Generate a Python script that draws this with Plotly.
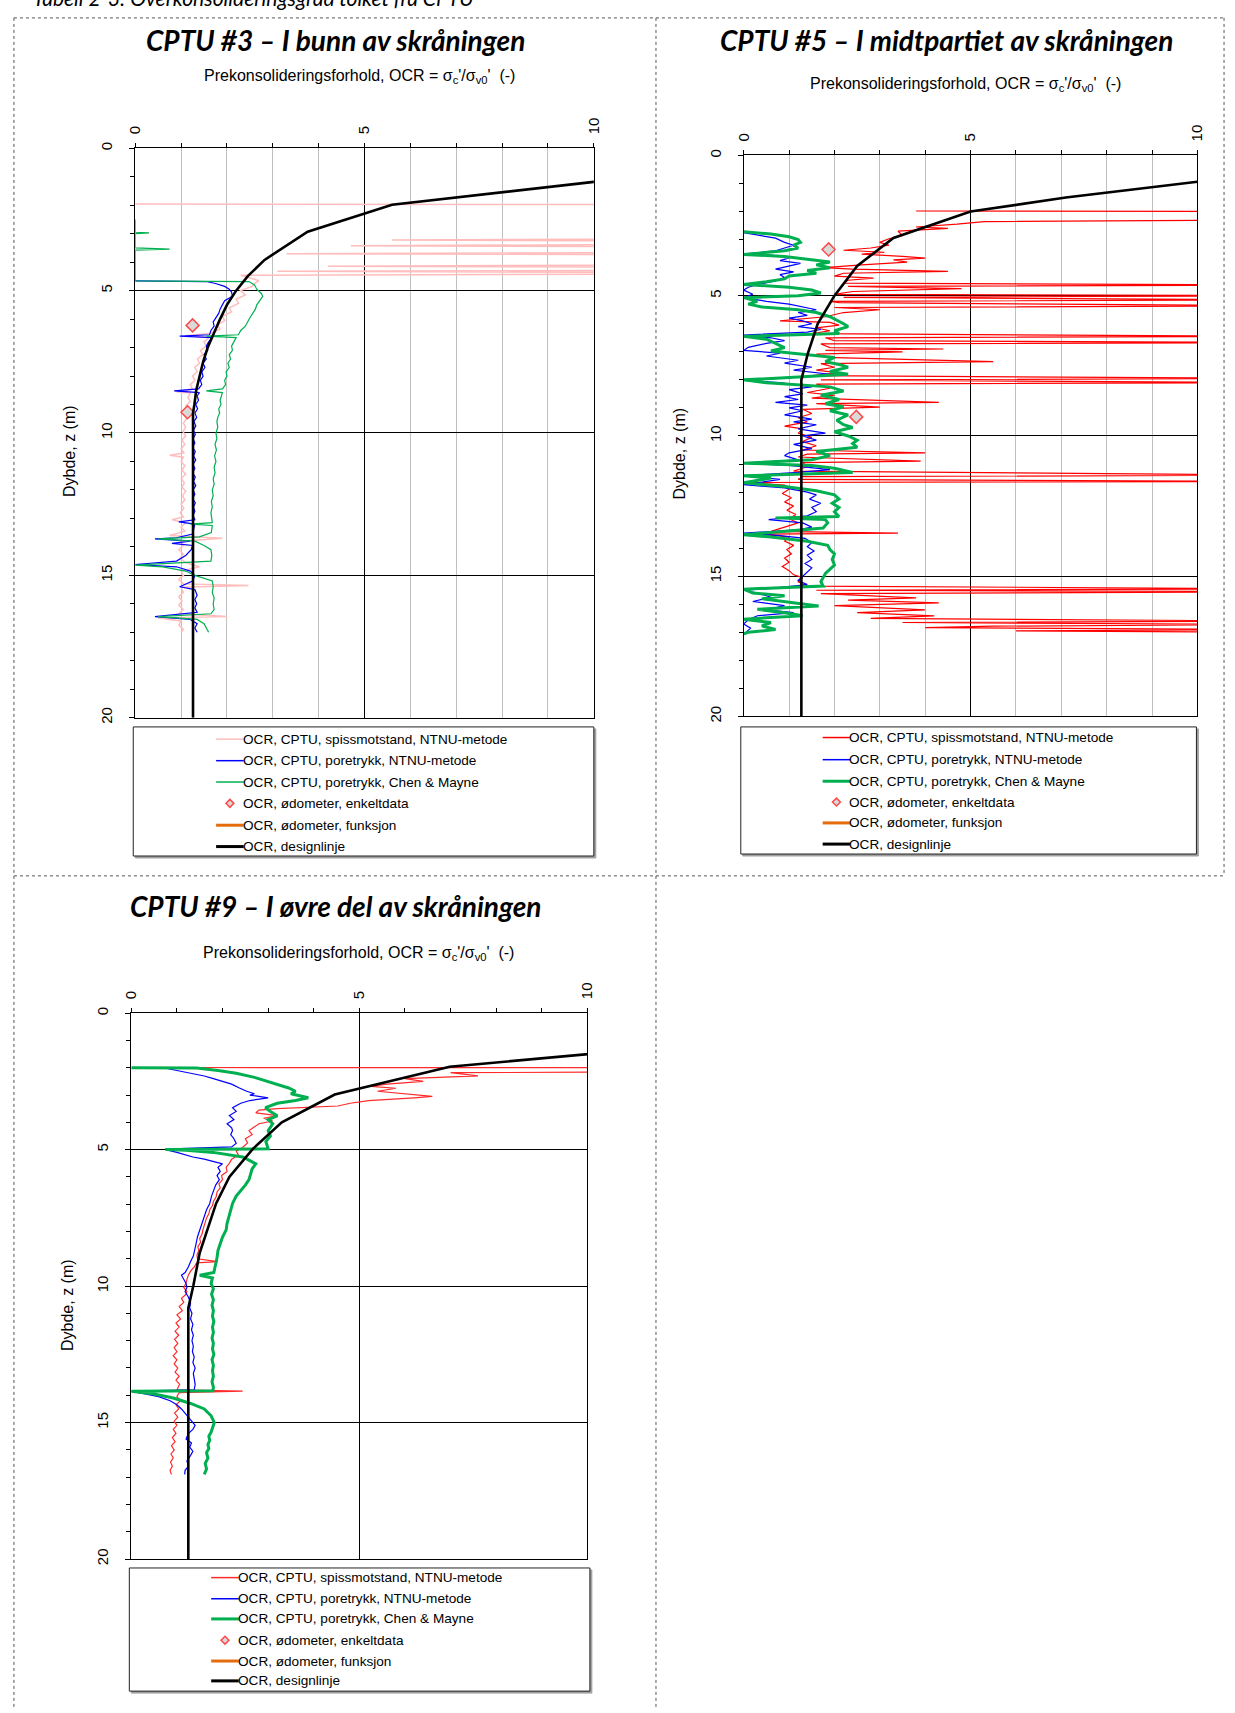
import plotly.graph_objects as go

# ======================= DATA (depth z [m], OCR [-]) =======================
# ---- CPTU #3 ----
c3_spiss = [(1.96,0.0),(1.98,12.0),(3.18,12.0),(3.22,5.6),(3.26,12.0),(3.38,12.0),(3.42,4.7),(3.46,12.0),
            (3.66,12.0),(3.70,3.3),(3.74,12.0),(4.10,12.0),(4.14,4.2),(4.18,12.0),(4.28,12.0),(4.32,3.1),
            (4.36,12.0),(4.42,12.0),(4.46,2.3),(4.55,2.5),(4.65,2.7),(4.75,2.6),(4.85,2.55),(5.0,2.3),
            (5.15,2.4),(5.3,2.2),(5.45,2.25),(5.6,2.05),(5.75,2.1),(5.9,1.9),(6.05,1.95),(6.2,1.8),
            (6.35,1.85),(6.5,1.65),(6.58,1.1),(6.65,1.6),(6.8,1.5),(6.95,1.55),(7.1,1.42),(7.25,1.47),
            (7.4,1.36),(7.55,1.4),(7.7,1.3),(7.85,1.35),(8.0,1.25),(8.15,1.3),(8.3,1.2),(8.45,1.25),
            (8.55,0.9),(8.6,1.2),(8.75,1.15),(8.9,1.2),(9.05,1.1),(9.2,1.15),(9.35,1.08),(9.5,1.12),
            (9.65,1.05),(9.8,1.1),(9.95,1.04),(10.1,1.1),(10.25,1.02),(10.4,1.08),(10.55,1.0),(10.7,1.06),
            (10.78,0.75),(10.85,1.05),(11.0,1.0),(11.15,1.08),(11.3,1.02),(11.45,1.1),(11.6,1.0),(11.75,1.07),
            (11.9,1.02),(12.05,1.1),(12.2,1.03),(12.35,1.08),(12.5,1.0),(12.65,1.06),(12.8,0.98),(12.95,1.05),
            (13.05,0.8),(13.15,1.1),(13.3,1.0),(13.45,1.08),(13.6,0.75),(13.7,1.9),(13.8,1.0),(13.95,1.05),
            (14.1,0.95),(14.25,1.05),(14.4,0.98),(14.55,1.1),(14.7,1.4),(14.85,1.0),(15.0,1.05),(15.15,0.95),
            (15.3,1.05),(15.36,2.47),(15.42,1.0),(15.6,1.05),(15.75,0.95),(15.9,1.02),(16.05,0.95),(16.2,1.05),
            (16.35,0.95),(16.45,2.0),(16.5,0.5),(16.6,1.0),(16.75,0.95),(16.9,1.05),(17.0,1.0)]
c3_poretrykk = [(4.66,0.0),(4.68,1.55),(4.75,1.75),(4.85,1.95),(4.95,2.05),(5.05,2.1),(5.2,2.12),(5.35,1.95),
            (5.5,1.9),(5.65,1.85),(5.8,1.82),(5.95,1.75),(6.1,1.7),(6.25,1.72),(6.4,1.65),(6.55,1.62),
            (6.6,0.97),(6.65,1.68),(6.8,1.6),(6.95,1.55),(7.1,1.58),(7.25,1.5),(7.4,1.55),(7.55,1.48),
            (7.7,1.52),(7.85,1.45),(8.0,1.48),(8.15,1.42),(8.3,1.45),(8.45,1.38),(8.52,0.85),(8.58,1.4),
            (8.7,1.35),(8.85,1.38),(9.0,1.32),(9.15,1.36),(9.3,1.3),(9.45,1.34),(9.6,1.28),(9.75,1.32),
            (9.9,1.27),(10.05,1.31),(10.2,1.26),(10.35,1.3),(10.5,1.25),(10.65,1.31),(10.8,1.27),(10.95,1.32),
            (11.1,1.26),(11.25,1.3),(11.4,1.25),(11.55,1.31),(11.7,1.27),(11.85,1.32),(12.0,1.26),(12.15,1.3),
            (12.3,1.25),(12.45,1.31),(12.6,1.27),(12.75,1.3),(12.9,1.26),(13.05,1.3),(13.12,0.95),(13.2,1.3),
            (13.4,1.27),(13.55,1.25),(13.68,0.9),(13.72,0.43),(13.8,1.2),(13.88,0.8),(13.95,1.25),(14.1,1.22),
            (14.3,1.1),(14.5,0.9),(14.62,0.0),(14.7,0.9),(14.85,1.2),(15.0,1.3),(15.2,1.25),(15.4,0.97),
            (15.5,1.3),(15.7,1.35),(15.85,1.3),(16.0,1.34),(16.15,1.3),(16.3,1.35),(16.45,0.43),(16.55,1.2),
            (16.7,1.35),(16.85,1.3),(17.0,1.35)]
c3_chen = [(2.5,0.0),(2.95,0.0),(2.97,0.3),(3.0,0.0),(3.5,0.0),(3.54,0.75),(3.58,0.0),(4.66,0.0),
            (4.68,2.48),(4.8,2.6),(4.95,2.65),(5.1,2.75),(5.2,2.78),(5.35,2.72),(5.5,2.65),(5.65,2.62),
            (5.8,2.55),(5.95,2.5),(6.1,2.45),(6.25,2.4),(6.4,2.3),(6.55,2.25),(6.6,1.55),(6.65,2.2),
            (6.8,2.15),(6.95,2.1),(7.1,2.12),(7.25,2.05),(7.4,2.08),(7.55,2.02),(7.7,2.05),(7.85,1.98),
            (8.0,2.0),(8.15,1.95),(8.3,1.97),(8.45,1.9),(8.52,1.55),(8.58,1.9),(8.7,1.88),(8.85,1.85),
            (9.0,1.87),(9.15,1.82),(9.3,1.84),(9.45,1.8),(9.6,1.78),(9.8,1.8),(10.0,1.76),(10.2,1.78),
            (10.4,1.74),(10.6,1.77),(10.8,1.73),(11.0,1.76),(11.2,1.72),(11.4,1.74),(11.6,1.7),(11.8,1.72),
            (12.0,1.68),(12.2,1.7),(12.4,1.66),(12.6,1.68),(12.8,1.65),(13.0,1.67),(13.15,1.68),(13.2,1.2),
            (13.25,1.68),(13.5,1.66),(13.65,1.4),(13.72,0.5),(13.8,1.3),(13.95,1.5),(14.1,1.65),(14.3,1.67),
            (14.5,1.65),(14.6,0.5),(14.64,0.0),(14.7,0.6),(14.85,1.1),(15.0,1.3),(15.1,1.5),(15.2,1.68),
            (15.4,1.7),(15.6,1.68),(15.8,1.72),(16.0,1.7),(16.2,1.72),(16.35,1.65),(16.45,0.5),(16.55,1.35),
            (16.7,1.5),(16.85,1.55),(17.0,1.6)]
c3_oedo_z = [6.22, 9.27]
c3_oedo_ocr = [1.25, 1.14]
c3_design = [(1.0,11.5),(1.18,10.0),(1.98,5.6),(2.93,3.76),(3.92,2.82),(4.5,2.45),(5.0,2.2),(5.5,2.0),
            (6.0,1.85),(6.5,1.71),(7.0,1.58),(7.5,1.48),(8.0,1.4),(8.5,1.33),(9.0,1.29),(9.3,1.26),(20.0,1.26)]

# ---- CPTU #5 ----
c5_spiss = [(1.98,3.8),(2.0,12.0),(2.3,12.0),(2.36,5.3),(2.45,4.7),(2.55,3.8),(2.6,4.5),(2.7,3.4),
            (2.85,3.5),(2.97,3.2),(3.1,3.0),(3.2,3.2),(3.3,2.8),(3.38,2.2),(3.45,3.1),(3.52,2.6),
            (3.6,3.5),(3.66,4.0),(3.72,3.3),(3.8,3.6),(3.9,2.6),(4.0,1.78),(4.05,2.4),(4.13,4.5),
            (4.2,2.2),(4.3,2.0),(4.37,2.86),(4.45,2.3),(4.55,2.2),(4.62,12.0),(4.67,2.3),(4.75,4.8),
            (4.85,2.4),(4.95,2.0),(5.0,12.0),(5.06,2.2),(5.15,12.0),(5.2,1.9),(5.25,2.1),(5.36,12.0),
            (5.42,2.0),(5.5,3.0),(5.6,2.2),(5.75,1.8),(5.9,0.8),(5.95,1.9),(6.05,2.1),(6.15,1.6),
            (6.25,1.9),(6.35,1.5),(6.45,12.0),(6.5,1.8),(6.6,2.0),(6.67,12.0),(6.72,1.7),(6.85,1.9),
            (6.9,4.4),(6.95,1.8),(7.0,3.5),(7.08,1.6),(7.2,1.8),(7.35,5.5),(7.42,1.7),(7.55,2.0),
            (7.65,1.6),(7.75,2.1),(7.85,1.5),(7.95,12.0),(8.0,1.7),(8.1,12.0),(8.15,1.6),(8.3,1.9),
            (8.45,1.4),(8.55,2.0),(8.65,1.5),(8.8,4.3),(8.85,1.6),(8.97,3.0),(9.05,1.3),(9.2,1.5),
            (9.35,1.2),(9.5,1.4),(9.65,0.9),(9.75,1.3),(9.9,1.2),(10.05,1.5),(10.2,1.3),(10.35,1.6),
            (10.5,1.3),(10.6,4.0),(10.65,1.4),(10.75,1.2),(10.9,3.9),(10.95,1.3),(11.1,1.4),(11.25,1.1),
            (11.4,12.0),(11.45,1.3),(11.55,1.2),(11.62,12.0),(11.66,0.05),(11.75,0.9),(11.9,1.0),(12.05,0.85),
            (12.2,1.05),(12.35,0.9),(12.5,1.1),(12.65,0.95),(12.8,1.15),(12.95,1.0),(13.1,1.2),(13.25,0.9),
            (13.4,0.6),(13.46,3.4),(13.5,0.33),(13.6,1.0),(13.75,0.9),(13.9,1.1),(14.05,0.95),(14.2,1.05),
            (14.35,0.9),(14.5,1.0),(14.65,0.85),(14.8,1.0),(14.95,1.1),(15.05,1.3),(15.2,1.2),(15.35,1.4),
            (15.45,12.0),(15.5,1.6),(15.55,12.0),(15.62,1.7),(15.77,3.8),(15.85,2.3),(15.95,4.3),(16.05,2.0),
            (16.2,4.0),(16.3,2.5),(16.41,4.2),(16.5,2.8),(16.6,12.0),(16.65,3.5),(16.72,12.0),(16.78,5.5),
            (16.83,4.0),(16.9,12.0),(16.95,6.0),(17.0,12.0)]
c5_poretrykk = [(2.75,0.0),(2.85,0.4),(2.95,0.7),(3.1,0.9),(3.2,1.1),(3.3,0.9),(3.4,0.7),(3.5,0.1),
            (3.55,0.6),(3.65,1.0),(3.75,0.8),(3.85,1.25),(3.95,1.0),(4.05,0.7),(4.15,1.1),(4.25,0.8),
            (4.35,0.9),(4.47,0.7),(4.6,0.3),(4.7,0.1),(4.8,0.0),(4.95,0.2),(5.07,0.0),(5.2,0.5),
            (5.3,1.0),(5.4,1.3),(5.5,1.6),(5.6,1.2),(5.7,1.4),(5.8,1.0),(5.9,1.3),(6.0,1.5),
            (6.1,1.2),(6.2,1.7),(6.3,1.4),(6.4,0.0),(6.5,0.6),(6.6,0.9),(6.7,0.5),(6.84,0.1),
            (6.95,0.0),(7.05,0.8),(7.15,0.5),(7.3,1.2),(7.4,0.9),(7.55,1.5),(7.65,1.1),(7.8,1.9),
            (7.9,1.2),(8.02,0.0),(8.1,0.8),(8.25,1.5),(8.35,1.0),(8.5,1.3),(8.6,0.9),(8.7,1.2),
            (8.8,0.7),(8.9,1.4),(9.0,1.0),(9.1,1.3),(9.25,0.9),(9.4,1.5),(9.5,1.1),(9.6,1.6),
            (9.75,1.2),(9.9,1.8),(10.0,1.3),(10.15,1.6),(10.3,1.1),(10.45,1.5),(10.6,1.0),(10.7,0.9),
            (10.85,1.2),(10.97,0.0),(11.05,1.0),(11.2,1.9),(11.3,1.2),(11.42,0.0),(11.55,0.8),(11.74,0.0),
            (11.85,0.9),(12.0,1.4),(12.1,1.6),(12.25,1.45),(12.4,1.7),(12.55,1.5),(12.7,1.6),(12.85,1.4),
            (12.98,0.55),(13.1,1.3),(13.25,1.5),(13.35,1.2),(13.46,0.0),(13.55,0.8),(13.65,1.35),(13.8,1.5),
            (13.95,1.4),(14.1,1.55),(14.25,1.4),(14.4,1.5),(14.55,1.35),(14.7,1.5),(14.85,1.4),(15.0,1.3),
            (15.15,1.2),(15.3,1.4),(15.45,0.5),(15.5,0.0),(15.6,0.3),(15.75,0.6),(15.9,0.2),(16.05,0.9),
            (16.2,0.5),(16.3,1.1),(16.41,0.3),(16.55,0.1),(16.7,0.0),(16.85,0.15),(17.0,0.05)]
c5_chen = [(2.72,0.0),(2.8,0.6),(2.9,1.0),(3.0,1.2),(3.1,1.25),(3.2,1.1),(3.3,1.2),(3.4,0.9),
            (3.5,0.2),(3.53,0.0),(3.6,0.9),(3.7,1.4),(3.8,1.9),(3.9,1.6),(4.0,1.9),(4.1,1.4),
            (4.2,1.6),(4.3,1.0),(4.4,0.9),(4.5,0.5),(4.6,0.0),(4.7,1.0),(4.8,1.5),(4.9,1.7),
            (5.0,1.2),(5.07,0.0),(5.2,0.3),(5.3,0.1),(5.4,0.4),(5.5,1.2),(5.6,1.6),(5.75,1.9),
            (5.9,2.1),(6.0,2.2),(6.1,2.3),(6.25,2.0),(6.35,2.1),(6.45,0.0),(6.55,0.5),(6.7,0.7),
            (6.85,0.9),(6.97,0.6),(7.1,1.4),(7.2,2.0),(7.35,1.8),(7.45,2.1),(7.55,2.3),(7.7,1.9),
            (7.8,2.3),(7.9,1.2),(8.0,0.0),(8.1,0.5),(8.25,1.9),(8.4,2.2),(8.55,1.7),(8.7,2.1),
            (8.85,1.8),(8.96,2.2),(9.1,1.9),(9.25,2.3),(9.44,2.05),(9.6,2.2),(9.7,2.4),(9.85,2.0),
            (10.0,2.3),(10.15,2.5),(10.27,2.4),(10.4,2.5),(10.55,1.6),(10.7,1.9),(10.85,1.5),(10.97,0.0),
            (11.05,1.5),(11.15,2.0),(11.3,2.4),(11.42,0.0),(11.5,0.6),(11.67,0.0),(11.8,0.9),(11.95,1.6),
            (12.1,2.0),(12.25,2.1),(12.4,1.95),(12.55,2.1),(12.7,2.0),(12.87,2.1),(12.92,0.7),(12.98,1.8),
            (13.1,1.85),(13.28,1.75),(13.4,0.8),(13.52,0.0),(13.6,0.6),(13.75,1.4),(13.9,1.85),(14.05,1.9),
            (14.2,2.0),(14.4,1.95),(14.6,2.0),(14.76,1.9),(14.9,1.8),(15.05,1.75),(15.2,1.7),(15.35,1.75),
            (15.46,0.0),(15.6,0.2),(15.7,0.9),(15.8,0.4),(15.94,1.1),(16.06,1.65),(16.18,0.3),(16.3,0.9),
            (16.41,1.3),(16.53,0.0),(16.65,0.6),(16.77,0.4),(16.9,0.7),(17.0,0.1),(17.05,0.0)]
c5_oedo_z = [3.35, 9.32]
c5_oedo_ocr = [1.87, 2.48]
c5_design = [(0.7,11.5),(0.94,10.0),(1.5,7.1),(2.0,5.0),(2.94,3.3),(3.94,2.5),(5.0,2.0),(6.0,1.63),
            (7.07,1.41),(8.0,1.27),(20.0,1.27)]

# ---- CPTU #9 ----
c9_spiss = [(1.99,1.43),(2.0,12.0),(2.15,12.0),(2.18,7.0),(2.3,7.6),(2.4,6.0),(2.5,6.4),(2.6,5.6),
            (2.68,5.25),(2.75,5.8),(2.86,5.4),(2.95,5.9),(3.05,6.6),(3.1,6.2),(3.2,5.2),(3.3,4.8),
            (3.4,4.53),(3.5,3.2),(3.55,2.8),(3.65,2.73),(3.75,3.2),(3.85,2.9),(3.95,3.1),(4.05,2.8),
            (4.15,2.7),(4.3,2.58),(4.45,2.65),(4.6,2.5),(4.75,2.55),(4.92,2.44),(5.05,2.3),(5.2,2.35),
            (5.35,2.2),(5.5,2.15),(5.64,2.08),(5.8,2.1),(5.95,1.98),(6.1,2.0),(6.25,1.92),(6.4,1.95),
            (6.55,1.88),(6.73,1.86),(6.9,1.8),(7.05,1.78),(7.2,1.72),(7.35,1.7),(7.5,1.65),(7.65,1.62),
            (7.8,1.6),(7.94,1.57),(8.1,1.55),(8.25,1.5),(8.4,1.52),(8.55,1.46),(8.7,1.48),(8.85,1.44),
            (9.0,1.45),(9.1,1.9),(9.15,1.43),(9.3,1.38),(9.45,1.3),(9.6,1.25),(9.75,1.22),(9.9,1.2),
            (10.05,1.15),(10.2,1.22),(10.3,1.2),(10.45,1.1),(10.6,1.15),(10.75,1.05),(10.9,1.12),(11.05,1.0),
            (11.2,1.08),(11.35,0.98),(11.5,1.05),(11.65,0.96),(11.8,1.04),(11.95,0.95),(12.1,1.02),(12.25,0.94),
            (12.4,1.0),(12.55,0.92),(12.7,1.0),(12.85,0.94),(13.0,1.02),(13.15,0.96),(13.3,1.05),(13.45,0.98),
            (13.6,1.06),(13.8,1.0),(13.85,2.44),(13.9,1.05),(14.05,1.0),(14.2,1.08),(14.35,0.98),(14.5,1.04),
            (14.65,0.95),(14.8,1.02),(14.95,0.94),(15.1,1.0),(15.25,0.92),(15.4,0.98),(15.55,0.9),(15.7,0.96),
            (15.85,0.88),(16.0,0.94),(16.15,0.87),(16.3,0.92),(16.45,0.86),(16.6,0.9),(16.75,0.85),(16.9,0.88)]
c9_poretrykk = [(2.0,0.7),(2.1,1.0),(2.2,1.3),(2.3,1.6),(2.4,1.8),(2.5,2.0),(2.6,2.2),(2.74,2.37),
            (2.8,2.45),(2.86,2.53),(2.95,2.7),(3.0,2.6),(3.1,3.0),(3.2,2.6),(3.3,2.4),(3.46,2.22),
            (3.6,2.3),(3.75,2.15),(3.9,2.25),(4.05,2.1),(4.2,2.2),(4.3,2.22),(4.45,2.18),(4.6,2.25),
            (4.77,2.3),(4.9,2.2),(4.98,0.74),(5.02,0.8),(5.1,1.0),(5.2,1.2),(5.27,1.35),(5.35,1.6),
            (5.45,1.85),(5.52,2.0),(5.65,1.9),(5.8,1.95),(5.95,1.88),(6.1,1.93),(6.3,1.85),(6.5,1.8),
            (6.7,1.76),(6.97,1.72),(7.2,1.65),(7.45,1.6),(7.7,1.55),(7.94,1.5),(8.2,1.45),(8.45,1.42),
            (8.7,1.38),(8.9,1.36),(9.1,1.3),(9.3,1.25),(9.5,1.18),(9.6,1.1),(9.75,1.15),(9.9,1.2),
            (10.05,1.22),(10.2,1.18),(10.4,1.25),(10.6,1.3),(10.8,1.28),(11.0,1.33),(11.2,1.3),(11.4,1.35),
            (11.6,1.32),(11.8,1.36),(12.0,1.33),(12.2,1.36),(12.4,1.34),(12.6,1.38),(12.8,1.35),(13.0,1.4),
            (13.2,1.36),(13.4,1.38),(13.6,1.4),(13.8,1.38),(13.85,0.0),(13.95,0.3),(14.05,0.6),(14.2,0.85),
            (14.35,1.0),(14.5,1.1),(14.7,1.2),(14.9,1.3),(15.1,1.4),(15.25,1.35),(15.4,1.25),(15.6,1.2),
            (15.75,1.32),(15.9,1.28),(16.05,1.35),(16.2,1.3),(16.4,1.22),(16.6,1.25),(16.75,1.18),(16.9,1.17)]
c9_chen = [(2.0,0.0),(2.01,1.43),(2.1,1.9),(2.2,2.3),(2.35,2.7),(2.5,3.0),(2.6,3.2),(2.74,3.45),
            (2.86,3.6),(2.95,3.5),(3.1,3.88),(3.2,3.6),(3.3,3.2),(3.46,2.94),(3.6,3.05),(3.76,3.2),
            (3.9,3.0),(4.05,3.1),(4.3,3.0),(4.5,3.05),(4.7,2.95),(4.9,3.0),(4.97,3.0),(4.99,0.75),
            (5.02,1.2),(5.1,1.8),(5.2,2.2),(5.27,2.44),(5.4,2.6),(5.52,2.73),(5.7,2.65),(5.9,2.62),
            (6.1,2.58),(6.3,2.5),(6.5,2.4),(6.7,2.3),(6.97,2.22),(7.2,2.18),(7.45,2.15),(7.7,2.1),
            (7.94,2.08),(8.2,2.0),(8.45,1.95),(8.7,1.9),(8.95,1.88),(9.15,1.86),(9.35,1.83),(9.5,1.81),
            (9.6,1.5),(9.7,1.78),(9.9,1.75),(10.1,1.8),(10.3,1.76),(10.5,1.8),(10.7,1.77),(10.9,1.8),
            (11.1,1.78),(11.3,1.81),(11.5,1.78),(11.7,1.8),(11.9,1.77),(12.1,1.8),(12.3,1.78),(12.5,1.81),
            (12.7,1.77),(12.9,1.8),(13.1,1.78),(13.3,1.8),(13.5,1.77),(13.7,1.8),(13.83,1.79),(13.85,0.0),
            (13.95,0.5),(14.1,0.92),(14.3,1.3),(14.5,1.6),(14.75,1.75),(15.0,1.82),(15.2,1.78),(15.35,1.75),
            (15.5,1.7),(15.65,1.72),(15.8,1.68),(15.95,1.7),(16.1,1.65),(16.3,1.68),(16.5,1.62),(16.7,1.65),
            (16.9,1.6)]
c9_oedo_z = []
c9_oedo_ocr = []
c9_design = [(1.2,12.0),(1.51,10.0),(1.96,6.98),(2.98,4.46),(4.0,3.3),(4.98,2.66),(6.0,2.15),(6.97,1.86),
            (8.0,1.65),(8.78,1.5),(9.99,1.36),(10.8,1.25),(20.0,1.25)]

x_ticks = [0, 5, 10]
y_ticks = [0, 5, 10, 15, 20]

legend_labels = ["OCR, CPTU, spissmotstand, NTNU-metode",
                 "OCR, CPTU, poretrykk, NTNU-metode",
                 "OCR, CPTU, poretrykk, Chen & Mayne",
                 "OCR, ødometer, enkeltdata",
                 "OCR, ødometer, funksjon",
                 "OCR, designlinje"]

titles = ["CPTU #3 – I bunn av skråningen",
          "CPTU #5 – I midtpartiet av skråningen",
          "CPTU #9 – I øvre del av skråningen"]

# ======================= LAYOUT HELPERS =======================
W, H = 1235, 1713
def PX(x): return x / W
def PY(y): return 1 - y / H

FONT = "Liberation Sans, Arial, sans-serif"
BLACK = "#000000"
PINK = "#ffbdbd"
RED = "#ff0000"
RED9 = "#ff2a2a"
BLUE = "#0000ff"
GREEN = "#00b050"
ORANGE = "#e46c0a"

panels = [
    dict(key="", xd=(128, 593), yd=(143.3, 716.7), minor_grid=True,
         series=[(c3_spiss, PINK, 1.5), (c3_poretrykk, BLUE, 1.2), (c3_chen, GREEN, 1.2)],
         oedo=(c3_oedo_z, c3_oedo_ocr), design=c3_design,
         title=(331, 34), sub=(355, 71.5), ytitle=(62, 448),
         leg=dict(box=(126, 593, 726, 856), line=(210, 238), text=235,
                  rows=[738.3, 760, 781.5, 803, 825, 846.5],
                  colors=[(PINK, 1.5), (BLUE, 1.5), (GREEN, 1.5), None, (ORANGE, 3), (BLACK, 3)])),
    dict(key="2", xd=(745, 1205), yd=(150.5, 715.5), minor_grid=True,
         series=[(c5_spiss, RED, 1.2), (c5_poretrykk, BLUE, 1.2), (c5_chen, GREEN, 3.0)],
         oedo=(c5_oedo_z, c5_oedo_ocr), design=c5_design,
         title=(951, 34), sub=(970, 79.5), ytitle=(680, 451),
         leg=dict(box=(742, 1204, 726, 854), line=(825, 853), text=850,
                  rows=[736.7, 759, 780.7, 801.7, 822.7, 844],
                  colors=[(RED, 1.5), (BLUE, 1.5), (GREEN, 3), None, (ORANGE, 3), (BLACK, 3)])),
    dict(key="3", xd=(124, 586.5), yd=(1014.3, 1564), minor_grid=False,
         series=[(c9_spiss, RED9, 1.2), (c9_poretrykk, BLUE, 1.2), (c9_chen, GREEN, 3.0)],
         oedo=(c9_oedo_z, c9_oedo_ocr), design=c9_design,
         title=(331, 906), sub=(354, 954), ytitle=(60, 1308),
         leg=dict(box=(122, 589, 1573, 1697), line=(205, 233), text=230,
                  rows=[1582.7, 1604, 1624.3, 1645.7, 1666.7, 1686.7],
                  colors=[(RED9, 1.5), (BLUE, 1.5), (GREEN, 3), None, (ORANGE, 3), (BLACK, 3)])),
]

fig = go.Figure()
shapes, annotations = [], []
layout_axes = {}

for ti, p in enumerate(panels):
    k = p["key"]
    xa, ya = "x" + k, "y" + k
    for data, color, width in p["series"]:
        fig.add_trace(go.Scatter(x=[d[1] for d in data], y=[d[0] for d in data], mode="lines",
                                 line=dict(color=color, width=width), xaxis=xa, yaxis=ya,
                                 showlegend=False, hoverinfo="skip"))
    oz, oo = p["oedo"]
    fig.add_trace(go.Scatter(x=oo, y=oz, mode="markers", xaxis=xa, yaxis=ya, showlegend=False,
                             marker=dict(symbol="diamond", size=10, color="#d9d9d9",
                                         line=dict(color="#ff4a4a", width=1.5))))
    fig.add_trace(go.Scatter(x=[d[1] for d in p["design"]], y=[d[0] for d in p["design"]], mode="lines",
                             line=dict(color=BLACK, width=2.6), xaxis=xa, yaxis=ya, showlegend=False))

    layout_axes["xaxis" + k] = dict(
        domain=[PX(p["xd"][0]), PX(p["xd"][1])], anchor=ya, side="top", range=[0, 10],
        tickvals=x_ticks, ticks="outside", ticklen=4, tickcolor=BLACK, tickangle=-90,
        ticklabelstandoff=6,
        tickfont=dict(family=FONT, size=15, color=BLACK),
        showgrid=True, gridcolor=BLACK, gridwidth=1, zeroline=False,
        showline=True, mirror=True, linecolor=BLACK, linewidth=1,
        minor=dict(dtick=1, ticks="outside", ticklen=4, tickcolor=BLACK,
                   showgrid=p["minor_grid"], gridcolor="#c0c0c0", gridwidth=1.2))
    layout_axes["yaxis" + k] = dict(
        domain=[PY(p["yd"][1]), PY(p["yd"][0])], anchor=xa, range=[20, 0],
        tickvals=y_ticks, ticks="outside", ticklen=5, tickcolor=BLACK, tickangle=-90,
        ticklabelstandoff=11,
        tickfont=dict(family=FONT, size=15, color=BLACK),
        showgrid=True, gridcolor=BLACK, gridwidth=1, zeroline=False,
        showline=True, mirror=True, linecolor=BLACK, linewidth=1,
        minor=dict(dtick=1, ticks="outside", ticklen=4, tickcolor=BLACK, showgrid=False))

    annotations.append(dict(text="<b><i>" + titles[ti] + "</i></b>", x=PX(p["title"][0]), y=PY(p["title"][1]),
                            xref="paper", yref="paper", showarrow=False, xanchor="center", yanchor="middle",
                            font=dict(family="Lato, sans-serif", size=28, color=BLACK)))
    annotations.append(dict(text="Prekonsolideringsforhold, OCR = σ<sub>c</sub>'/σ<sub>v0</sub>'  (-)",
                            x=PX(p["sub"][0]), y=PY(p["sub"][1]), xref="paper", yref="paper",
                            showarrow=False, xanchor="center", yanchor="middle",
                            font=dict(family=FONT, size=16, color=BLACK)))
    annotations.append(dict(text="Dybde, z (m)", x=PX(p["ytitle"][0]), y=PY(p["ytitle"][1]),
                            xref="paper", yref="paper", showarrow=False, textangle=-90,
                            xanchor="center", yanchor="middle",
                            font=dict(family=FONT, size=16, color=BLACK)))

    lg = p["leg"]
    bx0, bx1, by0, by1 = lg["box"]
    shapes.append(dict(type="rect", xref="paper", yref="paper", x0=PX(bx0 + 2), x1=PX(bx1 + 2),
                       y0=PY(by1 + 2), y1=PY(by0 + 2), line=dict(color="#a0a0a0", width=1),
                       fillcolor="#a0a0a0", layer="above"))
    shapes.append(dict(type="rect", xref="paper", yref="paper", x0=PX(bx0), x1=PX(bx1),
                       y0=PY(by1), y1=PY(by0), line=dict(color="#222222", width=1),
                       fillcolor="white", layer="above"))
    lx0, lx1 = lg["line"]
    for lbl, yy, col in zip(legend_labels, lg["rows"], lg["colors"]):
        if col is None:
            cx, r = (lx0 + lx1) / 2, 4
            path = "M {},{} L {},{} L {},{} L {},{} Z".format(
                PX(cx), PY(yy - r), PX(cx + r), PY(yy), PX(cx), PY(yy + r), PX(cx - r), PY(yy))
            shapes.append(dict(type="path", path=path, xref="paper", yref="paper",
                               line=dict(color="#ff4a4a", width=1.5), fillcolor="#d9d9d9", layer="above"))
        else:
            shapes.append(dict(type="line", xref="paper", yref="paper", x0=PX(lx0), x1=PX(lx1),
                               y0=PY(yy), y1=PY(yy), line=dict(color=col[0], width=col[1]), layer="above"))
        annotations.append(dict(text=lbl, x=PX(lg["text"]), y=PY(yy), xref="paper", yref="paper",
                                showarrow=False, xanchor="left", yanchor="middle",
                                font=dict(family=FONT, size=13.6, color=BLACK)))

DOT = dict(color="#555555", width=1, dash="dot")
for (x0, y0, x1, y1) in [(5, 12, 1233, 12), (5, 12, 5, 1713), (656, 12, 656, 1713),
                         (1232, 12, 1232, 876), (5, 876, 1233, 876)]:
    shapes.append(dict(type="line", xref="paper", yref="paper", x0=PX(x0), x1=PX(x1),
                       y0=PY(y0), y1=PY(y1), line=DOT, layer="above"))

annotations.append(dict(text="<i>Tabell 2-3: Overkonsolideringsgrad tolket fra CPTU</i>", x=PX(22), y=PY(6),
                        xref="paper", yref="paper", showarrow=False, xanchor="left", yanchor="bottom",
                        font=dict(family="Lato, sans-serif", size=21, color=BLACK)))

fig.update_layout(width=W, height=H, margin=dict(l=0, r=0, t=0, b=0),
                  paper_bgcolor="white", plot_bgcolor="white", showlegend=False,
                  shapes=shapes, annotations=annotations, **layout_axes)

fig.write_html("out.html", config={"displayModeBar": False},
               post_script="document.body.style.margin='0';document.body.style.overflow='hidden';")
